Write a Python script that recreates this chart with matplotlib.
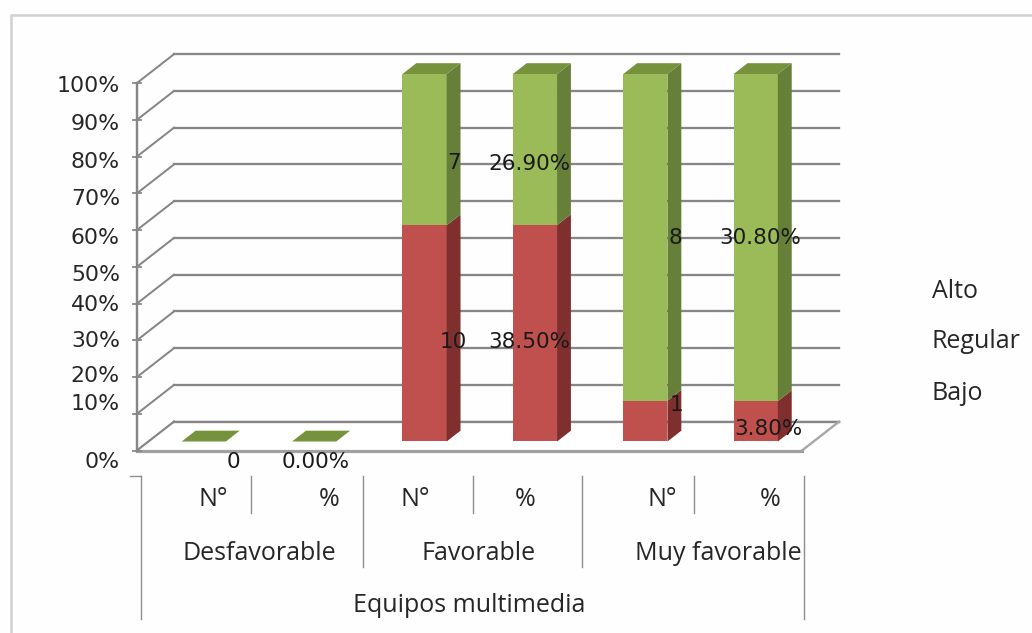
import matplotlib
matplotlib.use("Agg")
import matplotlib.pyplot as plt
from matplotlib.patches import Polygon
from matplotlib.lines import Line2D

# ---- data ----
groups = ["Desfavorable", "Favorable", "Muy favorable"]
measures = ["N°", "%", "N°", "%", "N°", "%"]
axis_title = "Equipos multimedia"
bajo = [0, 0.0, 10, 38.5, 1, 3.8]
regular = [0, 0.0, 0, 0.0, 0, 0.0]
alto = [0, 0.0, 7, 26.9, 8, 30.8]
legend_names = ["Alto", "Regular", "Bajo"]
y_ticks = [0, 10, 20, 30, 40, 50, 60, 70, 80, 90, 100]
y_tick_labels = ["0%", "10%", "20%", "30%", "40%", "50%", "60%", "70%", "80%", "90%", "100%"]
bajo_labels = ["", "", "10", "38.50%", "1", "3.80%"]
alto_labels = ["0", "0.00%", "7", "26.90%", "8", "30.80%"]

# ---- layout (pixels) ----
W, H = 1032, 633
GRID = "#868686"
TXT = "#262626"
GREEN, GREEN_SIDE, GREEN_TOP = "#9BBB59", "#66803A", "#76923C"
RED, RED_SIDE = "#C0504D", "#7F2F2D"
UI = "DejaVu Sans"
LBL = "Open Sans"
PX = 1 / 100 * 72

fig = plt.figure(figsize=(W / 100, H / 100), dpi=100, facecolor="#fefefe")
UNIT = 110.4
ax = fig.add_axes([137 / W, 1 - 450.5 / H, 6 * UNIT / W, 367.5 / H])
ax.set_xlim(-0.5, 5.5)
ax.set_ylim(0, 100)
ax.axis("off")
ov = fig.add_axes([0, 0, 1, 1], zorder=5)
ov.set_xlim(0, W)
ov.set_ylim(H, 0)
ov.axis("off")
ov.patch.set_alpha(0)

DX, DY = 37 / UNIT, 7.84          # depth vector in data units
def P(x, y, d):
    return (x + DX * d, y + DY * d)

xl, xr = -0.5, -0.5 + 665 / UNIT
# walls
for t in y_ticks:
    ax.plot(*zip(P(xl, t, 1), P(xr, t, 1)), color=GRID, lw=2.3 * PX, clip_on=False, zorder=1)
    ax.plot(*zip(P(xl, t, 0), P(xl, t, 1)), color=GRID, lw=2.0 * PX, clip_on=False, zorder=1)
    ax.plot([xl - 0.036, xl + 0.036], [t, t], color=GRID, lw=1.8 * PX, clip_on=False, zorder=2)
ax.plot([xl, xl], [0, 100], color=GRID, lw=2.4 * PX, clip_on=False, zorder=2)
# floor
ax.add_patch(Polygon([P(xl, 0, 0), P(xr, 0, 0), P(xr, 0, 1), P(xl, 0, 1)], closed=True,
                     facecolor="white", edgecolor="none", clip_on=False, zorder=1.5))
ax.plot(*zip(P(xl, 0, 1), P(xr, 0, 1)), color=GRID, lw=2.3 * PX, clip_on=False, zorder=1.6)
ax.plot(*zip(P(xl, 0, 0), P(xl, 0, 1)), color=GRID, lw=2.0 * PX, clip_on=False, zorder=1.6)
ax.plot(*zip(P(xr, 0, 0), P(xr, 0, 1)), color="#a8a8a8", lw=2.4 * PX, clip_on=False, zorder=1.6)
ax.plot([xl, xr], [0, 0], color="#a0a0a0", lw=3.2 * PX, clip_on=False, zorder=1.6)

# bars
HW = 0.2
D0, D1 = 0.3125, 0.6875
for i, (b, r, a) in enumerate(zip(bajo, regular, alto)):
    tot = b + r + a
    sb = 100 * b / tot if tot else 0
    sa = 100 * a / tot if tot else 0
    x = i + DX * D0
    base = DY * D0
    ax.bar(x, sb, width=2 * HW, bottom=base, color=RED, linewidth=0, clip_on=False, zorder=3)
    ax.bar(x, sa, width=2 * HW, bottom=base + sb, color=GREEN, linewidth=0, clip_on=False, zorder=3)
    right = i + HW
    left = i - HW
    for lo, hi, col in ((0, sb, RED_SIDE), (sb, sb + sa, GREEN_SIDE)):
        if hi > lo:
            ax.add_patch(Polygon([P(right, lo, D0), P(right, hi, D0), P(right, hi, D1), P(right, lo, D1)],
                                 closed=True, facecolor=col, edgecolor="none", clip_on=False, zorder=3))
    top = sb + sa
    ax.add_patch(Polygon([P(left, top, D0), P(right, top, D0), P(right, top, D1), P(left, top, D1)],
                         closed=True, facecolor=GREEN_TOP, edgecolor="none", clip_on=False, zorder=3))

# frame
ov.add_line(Line2D([11, 11, W], [H, 15, 15], color="#d2d2d2", lw=2.6 * PX))

# y tick labels
tick_y = [462, 404, 376, 341, 305, 275, 238, 199, 162, 124, 86.5]
for lab, y in zip(y_tick_labels, tick_y):
    ov.text(120, y, lab, ha="right", va="center", family=UI, fontsize=22 * PX, color=TXT)

# data labels
for lab, (x, y) in zip(alto_labels, [(233, 462), (316, 462), (454, 163), (529, 164), (675, 238), (760, 238)]):
    ov.text(x, y, lab, ha="center", va="center", family=UI, fontsize=21.5 * PX, color="#1a1a1a")
for lab, (x, y) in zip(bajo_labels, [(0, 0), (0, 0), (453, 342), (529, 342), (676, 405), (768, 429)]):
    if lab:
        ov.text(x, y, lab, ha="center", va="center", family=UI, fontsize=21.5 * PX, color="#1a1a1a")

# multi-level category axis
SEP = "#8f8f8f"
seps = [(141, 619), (251, 513), (363, 567), (473, 513), (581.5, 567), (693.5, 513), (803.5, 619)]
for x, yb in seps:
    ov.add_line(Line2D([x, x], [476, yb], color=SEP, lw=1.4 * PX))
ov.add_line(Line2D([130, 141], [476, 476], color=SEP, lw=1.4 * PX))
FS = 25 * PX
for lab, x in zip(measures, [213, 329, 415, 525, 662, 770]):
    ov.text(x, 499, lab, ha="center", va="center", family=LBL, fontsize=FS, color=TXT)
for lab, x in zip(groups, [259, 479, 718]):
    ov.text(x, 554, lab, ha="center", va="center", family=LBL, fontsize=FS, color=TXT)
ov.text(469, 605, axis_title, ha="center", va="center", family=LBL, fontsize=FS, color=TXT)

# legend (text only, as in the reference)
for lab, y in zip(legend_names, [291, 341, 393]):
    ov.text(932, y, lab, ha="left", va="center", family=LBL, fontsize=FS, color=TXT)

fig.savefig("out.png", dpi=100, facecolor=fig.get_facecolor())
